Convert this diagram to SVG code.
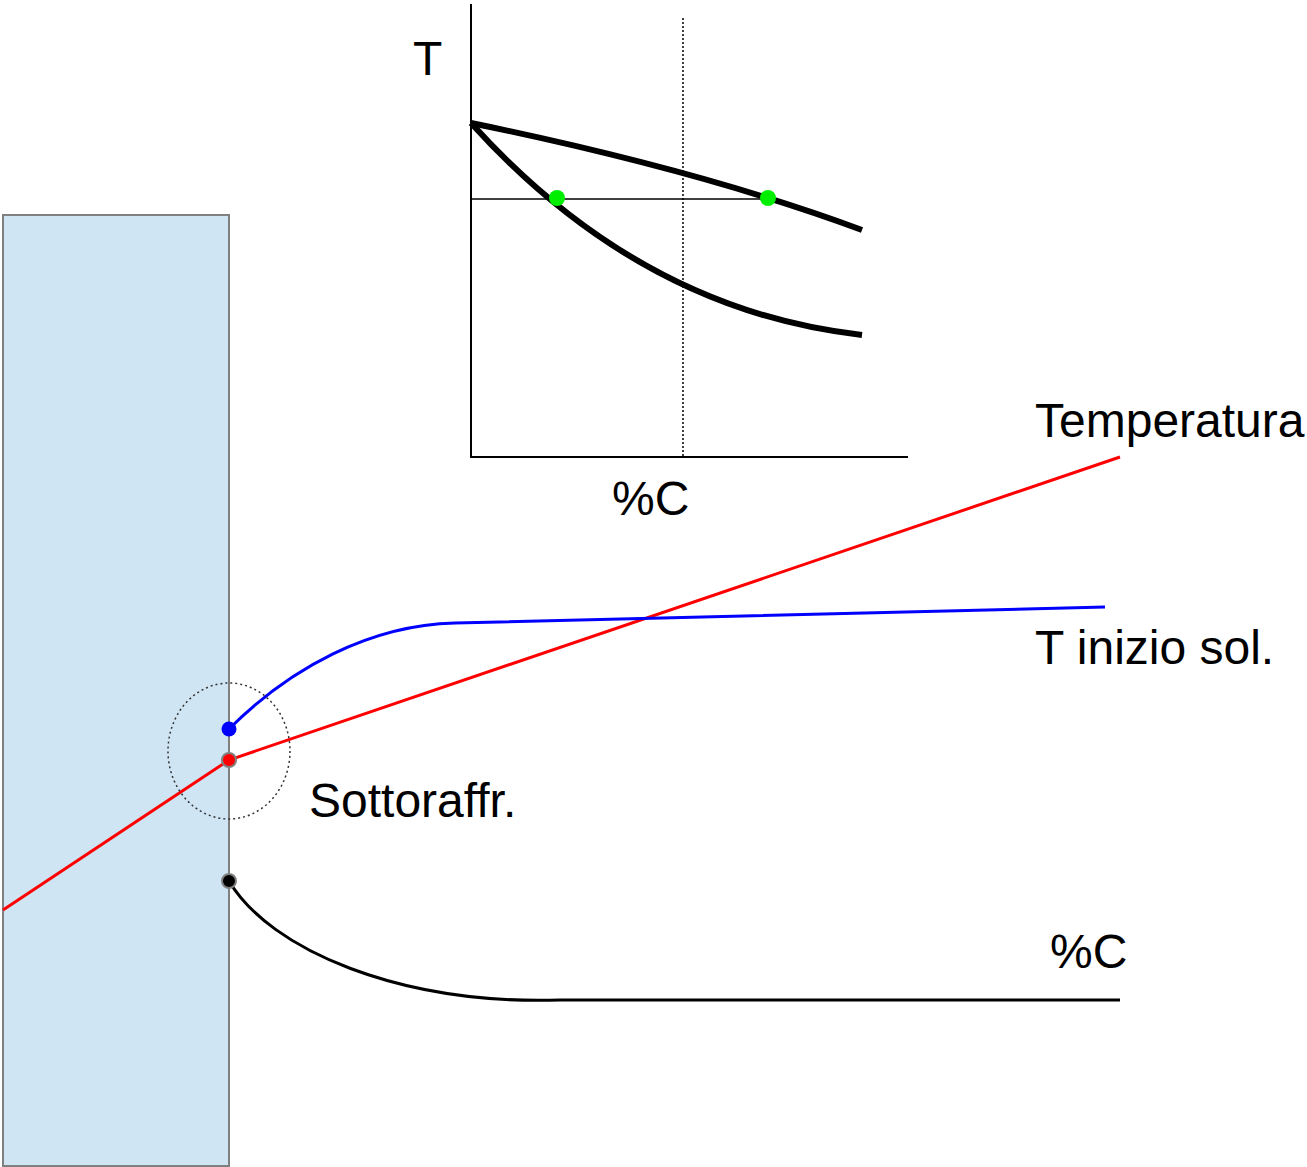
<svg xmlns="http://www.w3.org/2000/svg" width="1307" height="1167" viewBox="0 0 1307 1167">
<style>
text{font-family:"Liberation Sans",Arial,sans-serif;font-size:48px;fill:#000}
.curve{fill:none;stroke:#000;stroke-width:6}
.axis{fill:none;stroke:#000;stroke-width:2}
</style>
<rect width="1307" height="1167" fill="#fff"/>
<g id="wall"><rect x="3" y="215" width="226" height="951" fill="#cfe5f3" stroke="#808080" stroke-width="2"/></g>
<g id="graph">
<line class="axis" x1="471" y1="4" x2="471" y2="458"/>
<line class="axis" x1="470" y1="457" x2="908" y2="457"/>
<line x1="683" y1="18" x2="683" y2="457" stroke="#000" stroke-width="1.5" stroke-dasharray="2,2"/>
<line x1="471" y1="199" x2="768" y2="199" stroke="#000" stroke-width="1.5"/>
<path class="curve" d="M471,123 Q700,170 862,230"/>
<path class="curve" d="M471,123 Q640,310 862,335"/>
<circle cx="557" cy="198" r="8" fill="#00ee00"/>
<circle cx="768" cy="198" r="8" fill="#00ee00"/>
<text x="413" y="75">T</text>
<text x="612" y="515">%C</text>
</g>
<g id="connectors">
<path d="M3,910 L229,760 L1120,457" fill="none" stroke="#f00" stroke-width="3"/>
<path d="M229,729 C290,668 370,625 455,623 L1105,607" fill="none" stroke="#00f" stroke-width="3"/>
<path d="M229,881 C270,950 400,1005 560,1000 L1120,1000" fill="none" stroke="#000" stroke-width="3"/>
</g>
<g id="zone"><ellipse cx="229" cy="751" rx="61" ry="68" fill="none" stroke="#333" stroke-width="1.5" stroke-dasharray="2,3"/></g>
<g id="dots">
<circle cx="229" cy="729" r="7.5" fill="#00f"/>
<circle cx="229" cy="760" r="7" fill="#f00" stroke="#808080" stroke-width="2"/>
<circle cx="229" cy="881" r="7" fill="#000" stroke="#808080" stroke-width="2"/>
</g>
<g id="labels">
<text x="1035" y="437">Temperatura</text>
<text x="1035" y="664">T inizio sol.</text>
<text x="309" y="817">Sottoraffr.</text>
<text x="1050" y="968">%C</text>
</g>
</svg>
